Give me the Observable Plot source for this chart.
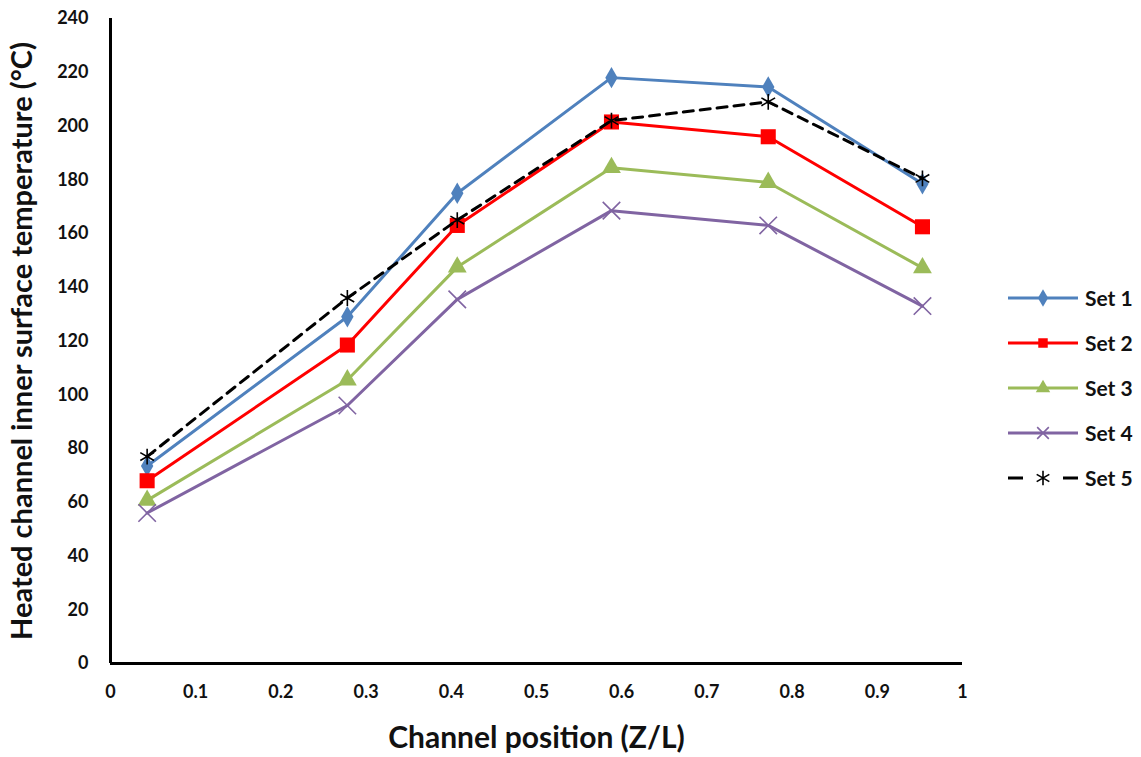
<!DOCTYPE html>
<html>
<head>
<meta charset="utf-8">
<script src="https://cdn.jsdelivr.net/npm/d3@7"></script>
<script src="https://cdn.jsdelivr.net/npm/@observablehq/plot@0.6"></script>
<style>
  html, body { margin: 0; padding: 0; background: #fff; }
  #wrap { position: relative; width: 1141px; height: 757px; font-family: Lato, "Open Sans", sans-serif; }
  #legend { position: absolute; left: 1008px; top: 275px; }
  .row { display: flex; align-items: center; height: 45px; font-weight: bold; font-size: 21px; color: #111; }
  .row svg { margin-right: 5px; }
</style>
</head>
<body>
<div id="wrap"><div id="legend"></div></div>
<script>
const positions = [0.043, 0.278, 0.407, 0.588, 0.772, 0.953];
const seriesNames = ["Set 1", "Set 2", "Set 3", "Set 4", "Set 5"];
const set1 = [73.5, 129, 175, 218, 214.5, 178.5];
const set2 = [68, 118.5, 163, 201.5, 196, 162.5];
const set3 = [60.7, 105.5, 147.5, 184.5, 179, 147.2];
const set4 = [56, 96, 135.5, 168.5, 163, 133];
const set5 = [77, 136, 165, 202, 209, 180.5];
const colors = ["#4F81BD", "#FF0000", "#9BBB59", "#8064A2", "#000000"];
const symbols = ["diamond", "square", "triangle", "times", "asterisk"];
const radii = [6.5, 8.5, 7, 8, 7.5];
const filled = [true, true, true, false, false];
const dashes = [null, null, null, null, "10,7"];
const xTicks = [0, 0.1, 0.2, 0.3, 0.4, 0.5, 0.6, 0.7, 0.8, 0.9, 1];
const yTicks = [0, 20, 40, 60, 80, 100, 120, 140, 160, 180, 200, 220, 240];

const allSeries = [set1, set2, set3, set4, set5];
const marks = [];
allSeries.forEach((vals, i) => {
  const data = vals.map((v, j) => ({x: positions[j], y: v}));
  marks.push(Plot.line(data, {x: "x", y: "y", stroke: colors[i], strokeWidth: 3, strokeDasharray: dashes[i] || undefined}));
  marks.push(Plot.dot(data, {x: "x", y: "y", symbol: () => symbols[i], r: radii[i],
    fill: filled[i] ? colors[i] : "none", stroke: colors[i], strokeWidth: filled[i] ? 0 : 1.6}));
});

const chart = Plot.plot({
  width: 1141, height: 757,
  marginLeft: 110, marginRight: 179, marginTop: 18, marginBottom: 94,
  style: {fontFamily: "Lato, 'Open Sans', sans-serif", overflow: "visible", background: "#fff"},
  x: {domain: [0, 1]},
  y: {domain: [0, 240]},
  symbol: {type: "identity"},
  marks: [
    ...marks,
    Plot.ruleX([0], {stroke: "#000", strokeWidth: 3}),
    Plot.ruleY([0], {stroke: "#000", strokeWidth: 3}),
    Plot.axisY({ticks: yTicks, tickSize: 0, tickPadding: 22, label: null, fontSize: 18, fontWeight: "bold", fill: "#111"}),
    Plot.axisX({ticks: xTicks, tickSize: 0, tickPadding: 22, label: null, fontSize: 18, fontWeight: "bold", fill: "#111",
      tickFormat: d => d3.format("")(+d.toFixed(1))}),
    Plot.text(["Heated channel inner surface temperature (\u00B0C)"], {frameAnchor: "left", rotate: -90, dx: -88,
      textAnchor: "middle", lineAnchor: "middle", fontSize: 29, fontWeight: "bold", fill: "#111", text: d => d}),
    Plot.text(["Channel position (Z/L)"], {frameAnchor: "bottom", dy: 75, textAnchor: "middle", lineAnchor: "middle",
      fontSize: 30, fontWeight: "bold", fill: "#111", text: d => d})
  ]
});
document.getElementById("wrap").prepend(chart);

const legend = document.getElementById("legend");
seriesNames.forEach((name, i) => {
  const row = document.createElement("div");
  row.className = "row";
  const ns = "http://www.w3.org/2000/svg";
  const svg = document.createElementNS(ns, "svg");
  svg.setAttribute("width", 72); svg.setAttribute("height", 20);
  const line = document.createElementNS(ns, "line");
  line.setAttribute("x1", 0); line.setAttribute("x2", 70); line.setAttribute("y1", 10); line.setAttribute("y2", 10);
  line.setAttribute("stroke", colors[i]); line.setAttribute("stroke-width", 3);
  if (dashes[i]) line.setAttribute("stroke-dasharray", "15,40");
  svg.appendChild(line);
  const symMap = {diamond: d3.symbolDiamond, square: d3.symbolSquare, triangle: d3.symbolTriangle, times: d3.symbolTimes, asterisk: d3.symbolAsterisk};
  const p = document.createElementNS(ns, "path");
  p.setAttribute("d", d3.symbol(symMap[symbols[i]], i === 4 ? 150 : 90)());
  p.setAttribute("transform", "translate(35,10)");
  p.setAttribute("fill", filled[i] ? colors[i] : "none");
  p.setAttribute("stroke", colors[i]);
  p.setAttribute("stroke-width", filled[i] ? 0 : 1.6);
  svg.appendChild(p);
  row.appendChild(svg);
  const t = document.createElement("span");
  t.textContent = name;
  row.appendChild(t);
  legend.appendChild(row);
});
</script>
</body>
</html>
